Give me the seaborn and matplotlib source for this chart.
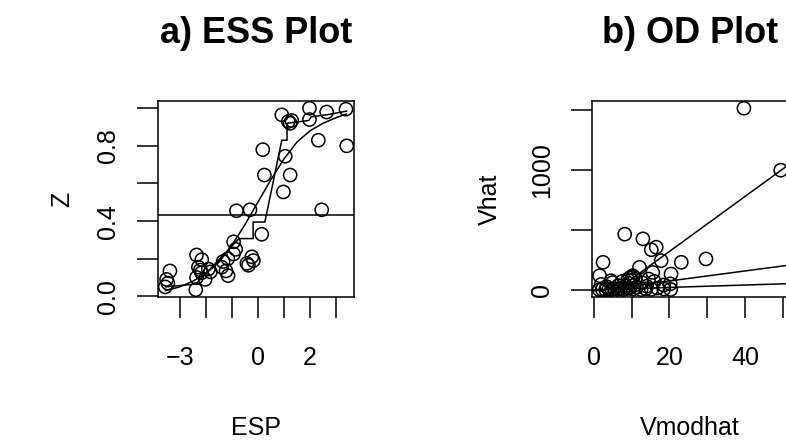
import numpy as np
import matplotlib
matplotlib.use("Agg")
import matplotlib.pyplot as plt
import seaborn as sns

# --- a) ESS plot data (read off the reference) ---
esp = [-3.55, -3.50, -3.37, -3.45,
       -2.38, -2.35, -2.15, -2.28, -2.16, -2.35, -2.02, -1.90, -1.82, -2.20,
       -1.33, -1.15, -1.39, -1.22, -1.14,
       -0.93, -0.85, -0.93, -0.82, -0.30,
       -0.42, -0.23, -0.17, -0.36,
       0.15, 0.19, 0.25, 0.98, 1.05, 1.24,
       0.92, 1.17, 1.24, 1.30,
       1.98, 1.98, 2.32, 2.45, 2.64, 3.38, 3.41]
z = [0.05, 0.09, 0.135, 0.07,
     0.035, 0.22, 0.195, 0.155, 0.125, 0.10, 0.09, 0.145, 0.13, 0.14,
     0.185, 0.20, 0.155, 0.135, 0.11,
     0.29, 0.25, 0.225, 0.455, 0.46,
     0.175, 0.21, 0.19, 0.165,
     0.33, 0.78, 0.645, 0.555, 0.745, 0.645,
     0.965, 0.93, 0.92, 0.935,
     1.0, 0.94, 0.83, 0.46, 0.98, 0.995, 0.80]

# fitted mean curve
curve_esp = [-3.55, -3.0, -2.5, -2.0, -1.5, -1.0, -0.5, 0.0, 0.5, 1.0, 1.5, 2.0, 2.5, 3.0, 3.41]
curve_z = [0.03, 0.05, 0.08, 0.12, 0.18, 0.27, 0.38, 0.50, 0.62, 0.73, 0.82, 0.88, 0.92, 0.95, 0.97]

# step smoother
step_esp = [-3.55, -2.38, -0.72, -0.18, -0.18, 0.27, 0.92, 1.12, 1.12, 1.95, 2.05, 2.64, 3.41]
step_z = [0.05, 0.065, 0.307, 0.307, 0.395, 0.395, 0.83, 0.83, 0.92, 0.935, 0.955, 0.965, 0.985]

z_mean = 0.43

# --- b) OD plot data ---
vmodhat = [1.5, 2.3, 3.2, 4.0, 4.8, 5.5, 6.3, 7.0, 7.8, 8.6, 9.5, 10.4, 11.3, 12.5, 13.8,
           15.2, 16.8, 18.5, 20.3,
           2.0, 3.5, 5.0, 6.5, 7.5, 8.5, 9.2, 10.0, 10.8, 12.8, 14.0, 16.0, 18.5, 20.2,
           9.5, 10.5, 11.0, 9.0, 14.5,
           39.6, 49.3, 8.2, 13.0, 16.5, 15.2, 17.8, 23.1, 29.6, 2.5, 12.1, 15.6, 20.4,
           1.6, 4.6, 10.3]
vhat = [1, 3, 0.5, 6, 2, 8, 4, 12, 3, 10, 15, 5, 20, 2, 9,
        4, 14, 7, 3,
        45, 25, 60, 35, 70, 30, 55, 80, 40, 60, 30, 70, 40, 50,
        100, 110, 95, 85, 90,
        1518, 1000, 465, 426, 356, 335, 244, 230, 258, 230, 188, 145, 132,
        118, 76, 118]

# reference lines: intercept, slope
od_intercepts = [0, -10, -141]
od_slopes = [1, 4.2, 23.1]


def r_lim(vals):
    # R style axis range: data range plus 4% each side
    lo, hi = min(vals), max(vals)
    pad = 0.04 * (hi - lo)
    return lo - pad, hi + pad


sns.set_theme(style="ticks", rc={"axes.edgecolor": "black", "axes.linewidth": 1.1,
                                  "axes.labelcolor": "black", "text.color": "black",
                                  "xtick.color": "black", "ytick.color": "black"})
plt.rcParams["font.family"] = ["Liberation Sans", "DejaVu Sans"]

fig = plt.figure(figsize=(7.86, 4.48), dpi=100)
ax1 = fig.add_axes([158 / 786, 1 - 297 / 448, 196 / 786, 196 / 448])
ax2 = fig.add_axes([592 / 786, 1 - 297 / 448, 196 / 786, 196 / 448])

pt_kw = dict(marker="o", s=90, facecolor="none", edgecolor="black", linewidth=1.1)
ln_kw = dict(color="black", linewidth=1.1, sort=False, estimator=None)

# --- ESS plot ---
sns.scatterplot(x=esp, y=z, ax=ax1, **pt_kw)
ax1.set_xlim(r_lim(esp))
ax1.set_ylim(r_lim(z))
ax1.axhline(z_mean, color="black", linewidth=1.1)
sns.lineplot(x=curve_esp, y=curve_z, ax=ax1, **ln_kw)
sns.lineplot(x=step_esp, y=step_z, ax=ax1, **ln_kw)

ax1.set_xticks([-3, -2, -1, 0, 1, 2, 3], ["\u22123", "", "", "0", "", "2", ""])
ax1.set_yticks([0, 0.2, 0.4, 0.6, 0.8, 1.0], ["0.0", "", "0.4", "", "0.8", ""],
               rotation=90, va="center")

# --- OD plot ---
sns.scatterplot(x=vmodhat, y=vhat, ax=ax2, **pt_kw)
ax2.set_xlim(r_lim(vmodhat))
ax2.set_ylim(r_lim(vhat))
xl = np.array(ax2.get_xlim())
for a, b in zip(od_intercepts, od_slopes):
    sns.lineplot(x=xl, y=a + b * xl, ax=ax2, **ln_kw)
ax2.set_xlim(r_lim(vmodhat))
ax2.set_ylim(r_lim(vhat))

ax2.set_xticks([0, 10, 20, 30, 40, 50], ["0", "", "20", "", "40", ""])
ax2.set_yticks([0, 500, 1000, 1500], ["0", "", "1000", ""], rotation=90, va="center")

for ax, title, xlab, ylab in [(ax1, "a) ESS Plot", "ESP", "Z"),
                              (ax2, "b) OD Plot", "Vmodhat", "Vhat")]:
    for s in ax.spines.values():
        s.set_visible(True)
        s.set_linewidth(1.1)
    ax.tick_params(direction="out", length=15, width=1.1, labelsize=18)
    ax.tick_params(axis="x", pad=20)
    ax.tick_params(axis="y", pad=12)
    ax.set_title(title, fontsize=26, fontweight="bold", y=1.345, pad=0, va="center")
    ax.set_xlabel(xlab, fontsize=18, va="center")
    ax.set_ylabel(ylab, fontsize=18, va="center")
    ax.xaxis.set_label_coords(0.5, (297 - 428) / 196)

ax1.yaxis.set_label_coords((62 - 158) / 196, 0.5)
ax2.yaxis.set_label_coords((490 - 592) / 196, 0.5)

fig.savefig("out.png", dpi=100)
